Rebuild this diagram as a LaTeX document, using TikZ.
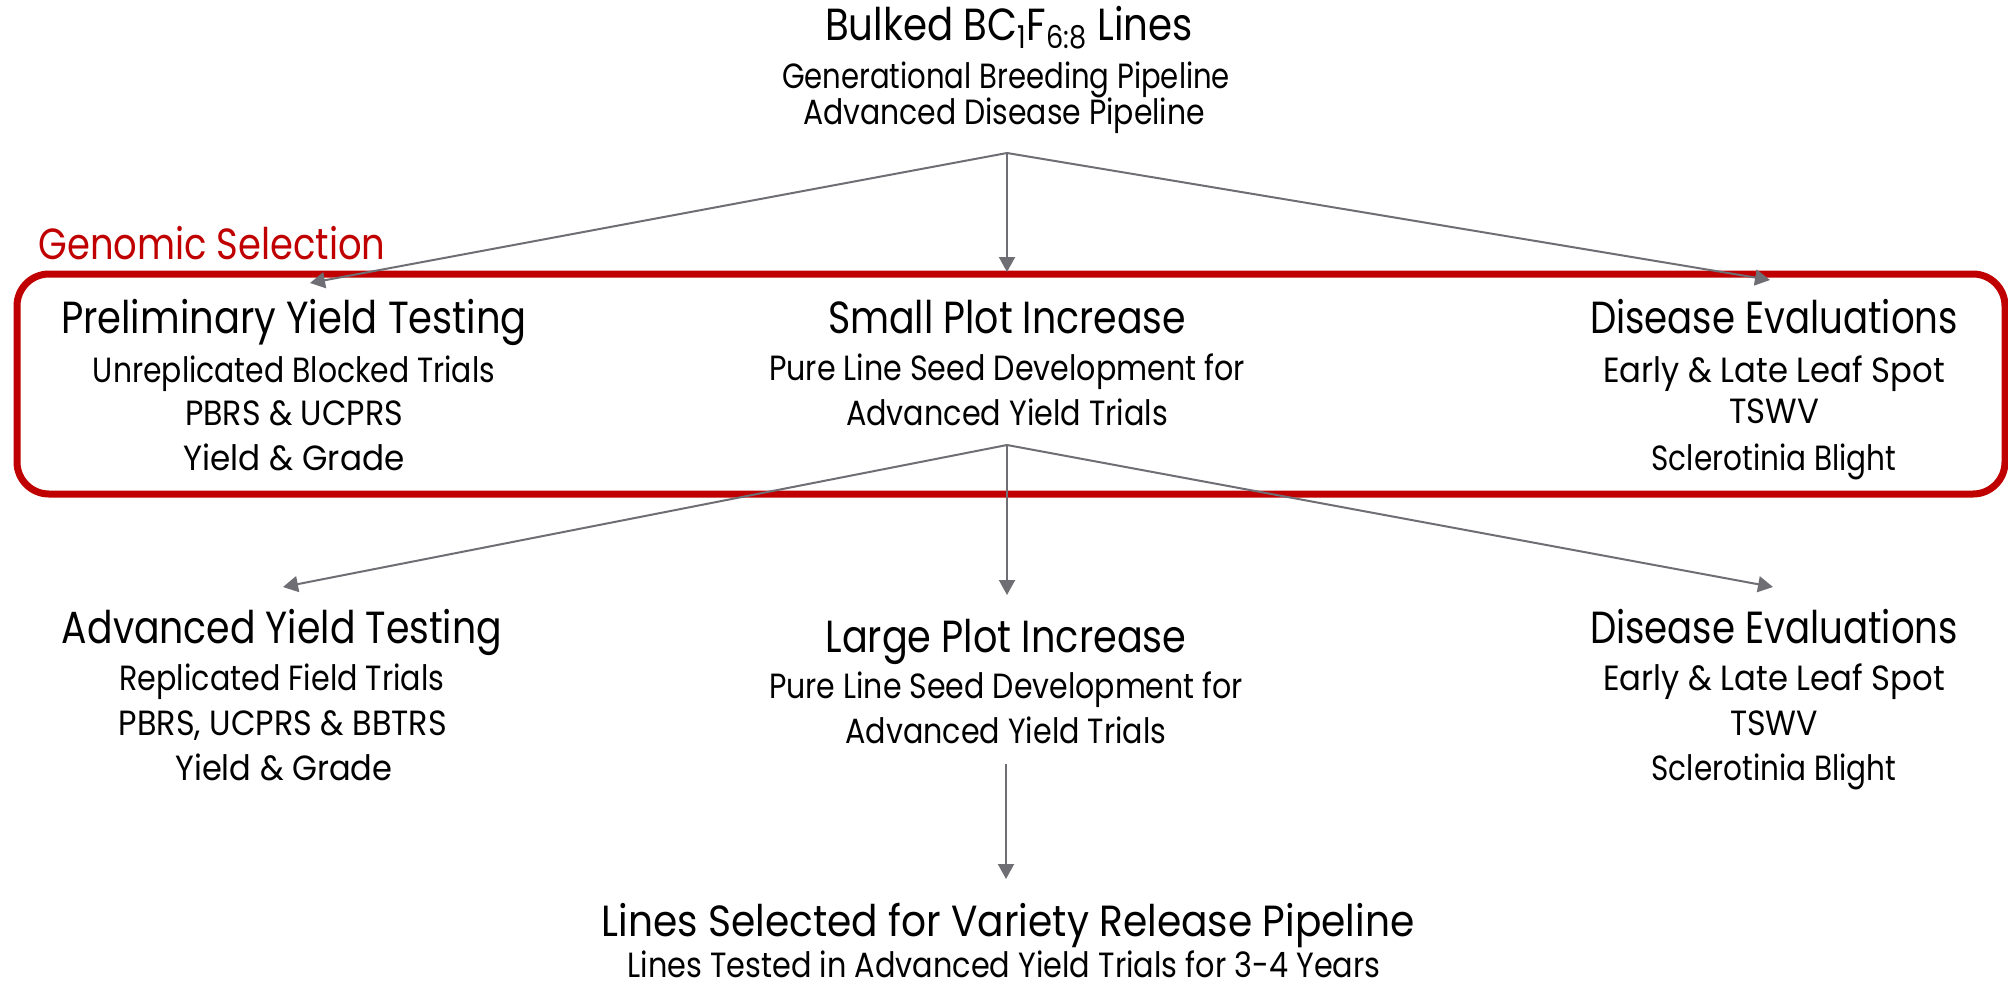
\documentclass[tikz,border=0pt]{standalone}
\usepackage{fontspec}
\setmainfont{Poppins}
\usepackage{graphicx}
\usetikzlibrary{arrows.meta}
\newlength\px \setlength\px{0.5pt}
\newcommand\fitw[2]{\resizebox{#1\px}{\height}{#2}}
\definecolor{boxred}{RGB}{192,0,0}
\definecolor{arrowgray}{RGB}{110,110,116}
\begin{document}
\begin{tikzpicture}[x=0.5pt,y=-0.5pt,
  big/.style={font=\fontsize{22.5}{26}\selectfont,anchor=base,inner sep=0pt},
  sub/.style={font=\fontsize{17.5}{20}\selectfont,anchor=base,inner sep=0pt},
  flow/.style={draw=arrowgray,line width=1pt,-{Triangle[length=7.5pt,width=8pt]}},
  gsbox/.style={draw=boxred,line width=3.5pt,rounded corners=16pt,inner sep=0pt}]
\useasboundingbox (0,0) rectangle (2008,986);

% source
\node[big] (src) at (1009,40) {\fitw{368}{Bulked BC\textsubscript{1}F\textsubscript{6:8} Lines}};
\node[sub] (src1) at (1006,88) {\fitw{448}{Generational Breeding Pipeline}};
\node[sub] (src2) at (1004,124) {\fitw{402}{Advanced Disease Pipeline}};

% genomic selection
\node[big,font=\fontsize{21.8}{26}\selectfont,text=boxred,anchor=base west] (gs) at (38,259) {\fitw{347}{Genomic Selection}};
\node[gsbox,minimum width=994pt,minimum height=110pt] (gsel) at (1011,384) {};

% middle row
\node[big] (pyt) at (294,333) {\fitw{466}{Preliminary Yield Testing}};
\node[sub] (pyt1) at (294,382) {\fitw{402}{Unreplicated Blocked Trials}};
\node[sub] (pyt2) at (294,425) {\fitw{218}{PBRS \& UCPRS}};
\node[sub] (pyt3) at (294,470) {\fitw{221}{Yield \& Grade}};

\node[big] (spi) at (1007,333) {\fitw{358}{Small Plot Increase}};
\node[sub] (spi1) at (1007,380) {\fitw{476}{Pure Line Seed Development for}};
\node[sub] (spi2) at (1007,425) {\fitw{322}{Advanced Yield Trials}};

\node[big] (de) at (1774,333) {\fitw{368}{Disease Evaluations}};
\node[sub] (de1) at (1774,382) {\fitw{342}{Early \& Late Leaf Spot}};
\node[sub] (de2) at (1774,423) {\fitw{90}{TSWV}};
\node[sub] (de3) at (1774,470) {\fitw{245}{Sclerotinia Blight}};

% lower row
\node[big] (ayt) at (282,643) {\fitw{440}{Advanced Yield Testing}};
\node[sub] (ayt1) at (282,690) {\fitw{325}{Replicated Field Trials}};
\node[sub] (ayt2) at (283,735) {\fitw{328}{PBRS, UCPRS \& BBTRS}};
\node[sub] (ayt3) at (284,780) {\fitw{217}{Yield \& Grade}};

\node[big] (lpi) at (1006,652) {\fitw{361}{Large Plot Increase}};
\node[sub] (lpi1) at (1006,698) {\fitw{474}{Pure Line Seed Development for}};
\node[sub] (lpi2) at (1006,743) {\fitw{321}{Advanced Yield Trials}};

\node[big] (dl) at (1774,643) {\fitw{368}{Disease Evaluations}};
\node[sub] (dl1) at (1774,690) {\fitw{342}{Early \& Late Leaf Spot}};
\node[sub] (dl2) at (1774,735) {\fitw{88}{TSWV}};
\node[sub] (dl3) at (1774,780) {\fitw{245}{Sclerotinia Blight}};

% bottom
\node[big,font=\fontsize{21.8}{26}\selectfont] (rel) at (1008,936) {\fitw{813}{Lines Selected for Variety Release Pipeline}};
\node[sub] (rel1) at (1004,977) {\fitw{753}{Lines Tested in Advanced Yield Trials for 3-4 Years}};

% connector points
\coordinate (o1) at (1007,153);
\coordinate (t1l) at (310,283);
\coordinate (t1m) at (1007,272);
\coordinate (t1r) at (1770,280);
\coordinate (o2) at (1007,445);
\coordinate (t2l) at (283,587);
\coordinate (t2m) at (1007,595);
\coordinate (t2r) at (1773,587);
\coordinate (o3) at (1006,764);
\coordinate (t3) at (1006,879);

\draw[flow] (o1) -- (t1l);
\draw[flow] (o1) -- (t1m);
\draw[flow] (o1) -- (t1r);
\draw[flow] (o2) -- (t2l);
\draw[flow] (o2) -- (t2m);
\draw[flow] (o2) -- (t2r);
\draw[flow] (o3) -- (t3);
\end{tikzpicture}
\end{document}
